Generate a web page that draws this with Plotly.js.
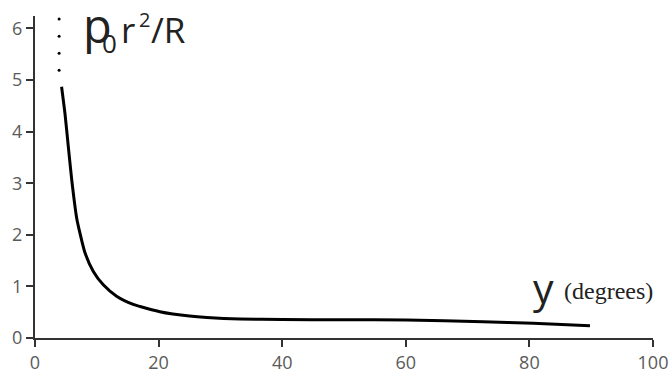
<!DOCTYPE html>
<html><head><meta charset="utf-8">
<script src="https://cdn.plot.ly/plotly-3.0.1.min.js"></script>
<style>html,body{margin:0;padding:0;background:#fff}#c{width:672px;height:372px}</style>
</head><body><div id="c"></div>
<script>
const angleDeg = [4.3, 4.85, 5.39, 5.94, 6.75, 7.1, 8.09, 9.44, 11.05, 13.2, 15.9, 17.0, 20.2, 22.3, 25.0, 27.8, 33.2, 40, 49.4, 60.1, 72.5, 80.6, 89.8];
const pressure = [4.87, 4.35, 3.71, 3.07, 2.32, 2.12, 1.65, 1.29, 1.03, 0.81, 0.65, 0.61, 0.51, 0.465, 0.425, 0.398, 0.368, 0.358, 0.352, 0.349, 0.316, 0.285, 0.235];
const dotAngle = [3.9, 3.9, 3.9, 3.9];
const dotValue = [6.18, 5.85, 5.52, 5.19];
const xTicks = [0, 20, 40, 60, 80, 100];
const yTicks = [0, 1, 2, 3, 4, 5, 6];

const traces = [
  {x: angleDeg, y: pressure, mode: 'lines', line: {color: '#000', width: 3, shape: 'spline', smoothing: 0.6}, hoverinfo: 'none'},
  {x: dotAngle, y: dotValue, mode: 'markers', marker: {color: '#000', size: 3}, hoverinfo: 'none'}
];
const axisCommon = {showgrid: false, zeroline: false, showline: true, linecolor: '#333', linewidth: 2,
  ticks: 'outside', ticklen: 7, tickwidth: 2, tickcolor: '#333',
  tickfont: {family: 'Open Sans', size: 18, color: '#5a5a5a'}};
const tf = (s, c) => ({family: 'Open Sans', size: s, color: c || '#222'});
const ann = (x, y, text, font) => ({xref: 'paper', yref: 'paper', x: x, y: y, xanchor: 'left', yanchor: 'middle', showarrow: false, text: text, font: font});
const layout = {
  width: 672, height: 372, showlegend: false,
  paper_bgcolor: '#fff', plot_bgcolor: '#fff',
  margin: {l: 35, r: 19, t: 16, b: 34},
  xaxis: Object.assign({}, axisCommon, {range: [0, 100], tickvals: xTicks, ticktext: xTicks.map(String)}),
  yaxis: Object.assign({}, axisCommon, {range: [0, 6.24], tickvals: yTicks, ticktext: yTicks.map(String)}),
  annotations: [
    ann(0.0744, 0.972, 'p', tf(47)),
    ann(0.105, 0.916, '0', tf(26)),
    ann(0.136, 0.959, 'r', tf(35)),
    ann(0.165, 0.990, '2', tf(20)),
    ann(0.1845, 0.959, '/R', tf(35)),
    ann(0.803, 0.157, 'y', tf(41)),
    ann(0.853, 0.146, '(degrees)', {family: 'Liberation Serif', size: 24, color: '#222'})
  ]
};
Plotly.newPlot('c', traces, layout, {staticPlot: true});
</script></body></html>
